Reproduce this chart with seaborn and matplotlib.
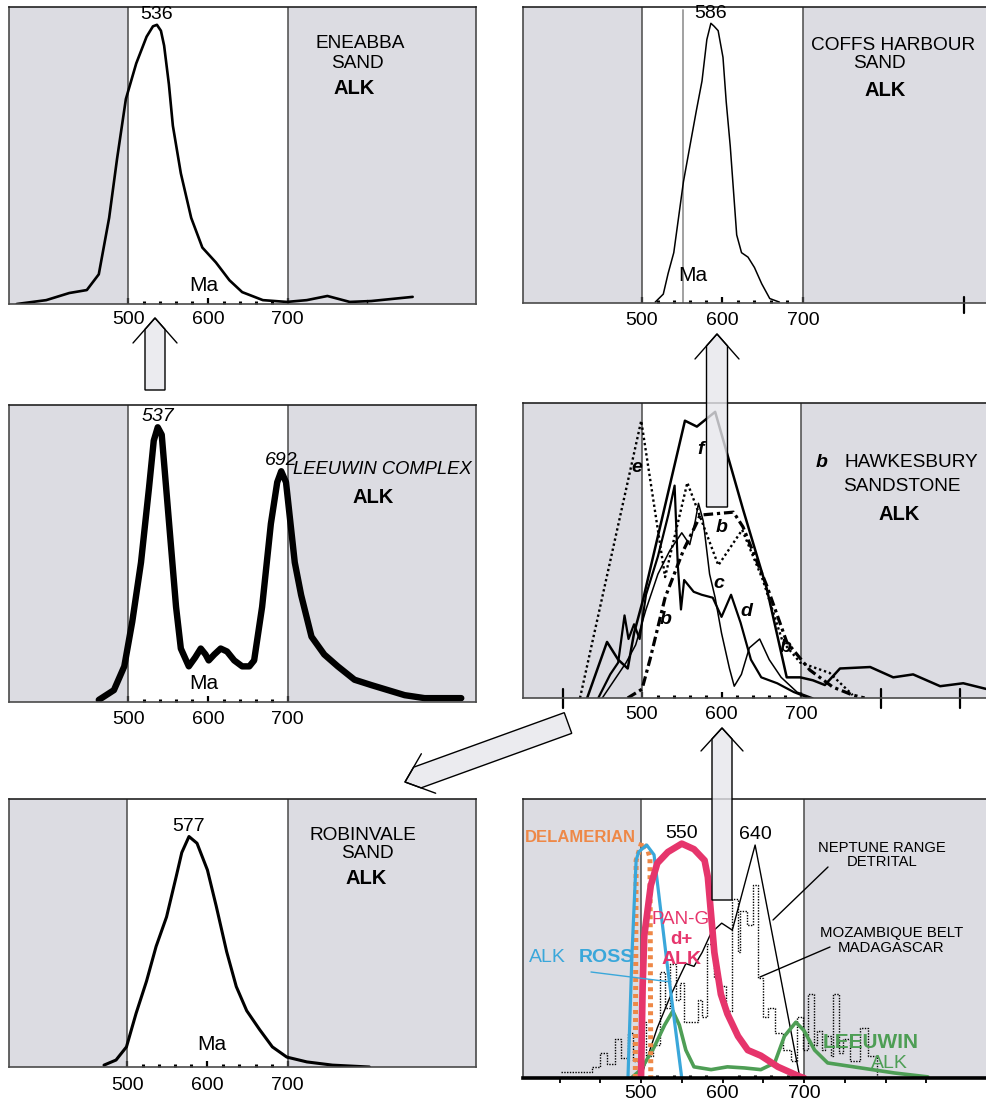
import numpy as np
import matplotlib
matplotlib.use("Agg")
import matplotlib.pyplot as plt
import seaborn as sns
from matplotlib.patches import Polygon
from matplotlib.ticker import FixedLocator, FuncFormatter

sns.set_style("white")
plt.rcParams['font.family'] = ['Liberation Sans', 'DejaVu Sans']
plt.rcParams['text.color'] = 'black'
plt.rcParams['xtick.color'] = 'black'
plt.rcParams['xtick.labelcolor'] = 'black'

# ---------------------------------------------------------------- data (Ma, relative height)
eneabba_age = [360, 397, 426, 448, 463, 476, 486, 497, 510, 523, 531, 536, 541, 545, 551, 556, 566,
               579, 593, 610, 627, 643, 669, 699, 724, 750, 778, 805, 857]
eneabba_h = [0.0, 0.013, 0.037, 0.047, 0.10, 0.29, 0.49, 0.69, 0.81, 0.90, 0.935, 0.94, 0.92, 0.87,
             0.74, 0.60, 0.44, 0.29, 0.19, 0.14, 0.08, 0.04, 0.013, 0.007, 0.013, 0.027, 0.007, 0.01, 0.024]
eneabba_peak = 536

coffs_age = [517, 527, 533, 540, 546, 552, 560, 568, 575, 581, 586, 590, 595, 601, 605, 610, 614,
             618, 624, 632, 640, 649, 659, 671]
coffs_h = [0.003, 0.03, 0.10, 0.17, 0.29, 0.41, 0.53, 0.65, 0.75, 0.89, 0.945, 0.935, 0.92, 0.83,
           0.68, 0.53, 0.38, 0.23, 0.17, 0.155, 0.12, 0.065, 0.015, 0.003]
coffs_peak = 586
coffs_marker = 552

leeuwin_age = [463, 482, 495, 505, 516, 526, 532, 537, 542, 551, 560, 566, 576, 584, 591, 597, 601,
               608, 616, 624, 633, 643, 652, 658, 668, 679, 687, 692, 698, 709, 717, 730, 746, 763,
               784, 805, 826, 847, 872, 918]
leeuwin_h = [0.007, 0.04, 0.12, 0.27, 0.47, 0.72, 0.88, 0.925, 0.90, 0.61, 0.32, 0.18, 0.12, 0.15,
             0.18, 0.16, 0.14, 0.16, 0.18, 0.17, 0.14, 0.12, 0.12, 0.14, 0.32, 0.60, 0.74, 0.777,
             0.74, 0.47, 0.36, 0.22, 0.16, 0.12, 0.075, 0.057, 0.04, 0.023, 0.013, 0.013]
leeuwin_peaks = [537, 692]

robinvale_age = [471, 486, 499, 511, 524, 536, 549, 561, 568, 577, 587, 600, 611, 624, 636, 649, 665,
                 681, 699, 724, 756, 802]
robinvale_h = [0.007, 0.026, 0.075, 0.20, 0.32, 0.45, 0.56, 0.71, 0.80, 0.86, 0.835, 0.735, 0.60,
               0.43, 0.30, 0.21, 0.14, 0.075, 0.037, 0.019, 0.007, 0.0]
robinvale_peak = 577

# Hawkesbury Sandstone samples b-f
hawk_b_age = [482, 500, 510, 529, 552, 570, 573, 615, 627, 657, 682, 711, 740, 765, 780]
hawk_b_h = [0, 0.03, 0.13, 0.34, 0.50, 0.60, 0.62, 0.63, 0.58, 0.38, 0.19, 0.095, 0.037, 0.01, 0]
hawk_c_age = [450, 465, 480, 492, 505, 520, 535, 550, 560, 567, 571, 577, 585, 592, 600, 610, 616,
              625, 635, 648, 660, 675, 695, 715]
hawk_c_h = [0, 0.06, 0.12, 0.18, 0.30, 0.42, 0.50, 0.56, 0.52, 0.60, 0.66, 0.60, 0.42, 0.34, 0.22,
            0.10, 0.04, 0.08, 0.17, 0.20, 0.13, 0.07, 0.02, 0]
hawk_d_age = [445, 460, 470, 478, 483, 490, 497, 505, 520, 533, 541, 545, 549, 553, 565, 575, 589,
              600, 612, 624, 637, 650, 670, 691, 710]
hawk_d_h = [0, 0.08, 0.12, 0.28, 0.20, 0.25, 0.20, 0.35, 0.48, 0.62, 0.72, 0.45, 0.30, 0.40, 0.36,
            0.35, 0.34, 0.275, 0.35, 0.255, 0.13, 0.07, 0.05, 0.02, 0]
hawk_e_age = [422, 499, 529, 557, 596, 626, 652, 677, 699, 736, 765]
hawk_e_h = [0, 0.94, 0.41, 0.73, 0.45, 0.57, 0.40, 0.19, 0.12, 0.085, 0.01]
hawk_f_age = [431, 456, 470, 482, 490, 501, 554, 569, 592, 627, 657, 682, 699, 715, 730, 749, 787,
              816, 841, 875, 904, 934]
hawk_f_h = [0, 0.19, 0.13, 0.10, 0.22, 0.33, 0.94, 0.92, 0.97, 0.64, 0.37, 0.07, 0.07, 0.06, 0.044,
            0.10, 0.105, 0.07, 0.08, 0.04, 0.05, 0.03]

# Source regions
pan_age = [500, 502, 504, 512, 520, 533, 550, 565, 578, 582, 590, 598, 606, 619, 631, 647, 668, 694, 700]
pan_h = [0, 0.33, 0.51, 0.69, 0.77, 0.81, 0.84, 0.82, 0.78, 0.72, 0.45, 0.30, 0.23, 0.15, 0.10,
         0.08, 0.04, 0.006, 0]
pan_peak = 550
ross_age = [484, 489, 494, 497, 507, 516, 532, 550]
ross_h = [0, 0.45, 0.78, 0.81, 0.835, 0.80, 0.41, 0]
delam_age = [493, 494, 501, 508, 511, 512]
delam_h = [0, 0.78, 0.845, 0.82, 0.79, 0]
leeu_alk_age = [488, 500, 516, 529, 539, 547, 555, 565, 586, 606, 627, 647, 664, 676, 690, 700, 713,
                729, 770, 811, 852]
leeu_alk_h = [0, 0.03, 0.11, 0.19, 0.24, 0.19, 0.10, 0.04, 0.03, 0.04, 0.036, 0.03, 0.054, 0.15,
              0.20, 0.17, 0.10, 0.054, 0.036, 0.018, 0.004]
neptune_age = [500, 504, 520, 537, 555, 565, 575, 586, 599, 612, 640, 695]
neptune_h = [0, 0.04, 0.18, 0.30, 0.41, 0.40, 0.45, 0.52, 0.555, 0.53, 0.835, 0]
neptune_peak = 640
moz_age = [402, 440, 450, 458, 468, 475, 484, 490, 501, 506, 515, 523, 530, 536, 543, 548, 553, 570,
           575, 581, 589, 597, 604, 612, 619, 622, 630, 637, 644, 650, 656, 664, 674, 684, 692, 699,
           705, 712, 716, 722, 726, 733, 736, 743, 748, 757, 769, 778, 790]
moz_h = [0.02, 0.04, 0.09, 0.05, 0.14, 0.07, 0.16, 0.06, 0.20, 0.08, 0.12, 0.38, 0.25, 0.41, 0.28,
         0.34, 0.20, 0.28, 0.22, 0.48, 0.36, 0.33, 0.24, 0.64, 0.45, 0.60, 0.55, 0.69, 0.36, 0.22,
         0.25, 0.16, 0.10, 0.06, 0.22, 0.10, 0.30, 0.12, 0.17, 0.10, 0.15, 0.08, 0.30, 0.09, 0.14,
         0.06, 0.18, 0.08, 0.0]

tick_labels = [500, 600, 700]
dot_ticks = list(range(520, 700, 20))

GREY = '#dcdce2'
EDGE = '#4a4a4a'
PINK = '#e6356c'
BLUE = '#3aa7da'
ORANGE = '#ee8847'
GREEN = '#4e9e55'
TXT = 13.7
BOLD = 14.5

W, H = 987, 1103
fig = plt.figure(figsize=(W / 100, H / 100), dpi=100)


def px_axes(l, t, r, b):
    return fig.add_axes([l / W, 1 - b / H, (r - l) / W, (b - t) / H])


def ftext(x, y, s, **kw):
    kw.setdefault('ha', 'center')
    kw.setdefault('va', 'center')
    kw.setdefault('color', 'black')
    fig.text(x / W, 1 - y / H, s, **kw)


def panel(ax, xlim, pad, below=False):
    ax.set_xlim(*xlim)
    ax.set_ylim(0, 1)
    ax.axvspan(xlim[0], 500, color=GREY, lw=0, zorder=0)
    ax.axvspan(700, xlim[1], color=GREY, lw=0, zorder=0)
    for v in (500, 700):
        ax.axvline(v, color=EDGE, lw=1.1, zorder=1)
    ax.set_yticks([])
    for s in ax.spines.values():
        s.set_color(EDGE)
        s.set_linewidth(1.2)
    ax.spines['top'].set_color('#222')
    ax.set_xticks(dot_ticks, minor=True)
    ax.tick_params(axis='x', which='minor', direction='in', length=2.2, width=2.2,
                   color='black', bottom=True)
    if below:
        major = list(range(400, 900, 50))
        ax.xaxis.set_major_locator(FixedLocator(major))
        ax.xaxis.set_major_formatter(FuncFormatter(
            lambda v, p: f"{int(v)}" if int(v) in tick_labels else ""))
        ax.tick_params(axis='x', which='major', direction='out', length=3.6, width=1.3,
                       color='black', labelcolor='black', pad=pad, labelsize=14, bottom=True)
        ax.spines['bottom'].set_color('black')
        ax.spines['bottom'].set_linewidth(2.6)
    else:
        ax.set_xticks(tick_labels)
        ax.tick_params(axis='x', which='major', direction='in', length=4, width=1.6,
                       color='black', labelcolor='black', pad=pad, labelsize=14, bottom=True)
    ax.set_xlabel('')
    ax.set_ylabel('')


def curve(ax, x, y, **kw):
    sns.lineplot(x=x, y=y, ax=ax, sort=False, estimator=None, legend=False, **kw)


def ma_label(ax, x, y):
    ax.text(x, y, 'Ma', ha='center', va='bottom', fontsize=15, color='black', zorder=5)


def peak_label(ax, ages, hs, peak, size=14, **kw):
    h = hs[ages.index(peak)]
    ax.text(peak, h + 0.006, str(peak), ha='center', va='bottom', fontsize=size,
            color='black', clip_on=False, zorder=6, **kw)


# ---------------------------------------------------------------- Eneabba Sand
ax1 = px_axes(9, 7, 476, 304)
panel(ax1, (350.3, 936.5), 5.0)
curve(ax1, eneabba_age, eneabba_h, color='black', lw=1.9)
peak_label(ax1, eneabba_age, eneabba_h, eneabba_peak)
ma_label(ax1, 595, 0.03)
ax1.axvline(800, ymin=0, ymax=0.012, color='black', lw=1)
ftext(360, 43, 'ENEABBA', fontsize=TXT)
ftext(357, 63, 'SAND', fontsize=TXT)
ftext(354, 89, 'ALK', fontsize=BOLD, fontweight='bold')

# ---------------------------------------------------------------- Coffs Harbour Sand
ax2 = px_axes(523, 7, 990, 303)
panel(ax2, (353.1, 932.0), 6.3)
ax2.axvline(coffs_marker, color='#9a9a9a', lw=1.3, ymin=-0.005, ymax=0.99, zorder=2)
curve(ax2, coffs_age, coffs_h, color='black', lw=1.1)
peak_label(ax2, coffs_age, coffs_h, coffs_peak)
ma_label(ax2, 564, 0.06)
ax2.axvline(900, ymin=-0.035, ymax=0.02, color='black', lw=1.6, clip_on=False)
ftext(893, 46, 'COFFS HARBOUR', fontsize=TXT)
ftext(879, 64, 'SAND', fontsize=TXT)
ftext(885, 90, 'ALK', fontsize=BOLD, fontweight='bold')

# ---------------------------------------------------------------- Leeuwin Complex
ax3 = px_axes(9, 405, 476, 702)
panel(ax3, (350.3, 936.5), 6.3)
curve(ax3, leeuwin_age, leeuwin_h, color='black', lw=4.6)
for pk in leeuwin_peaks:
    peak_label(ax3, leeuwin_age, leeuwin_h, pk, fontstyle='italic')
ma_label(ax3, 595, 0.03)
ftext(382, 470, 'LEEUWIN COMPLEX', fontsize=13.2, fontstyle='italic')
ftext(373, 498, 'ALK', fontsize=BOLD, fontweight='bold')

# ---------------------------------------------------------------- Hawkesbury Sandstone
ax4 = px_axes(523, 403, 990, 698)
panel(ax4, (350.3, 937.7), 5.6)
curve(ax4, hawk_e_age, hawk_e_h, color='black', lw=1.7, linestyle=(0, (1, 1.2)))
curve(ax4, hawk_b_age, hawk_b_h, color='black', lw=2.3, linestyle=(0, (3, 1.2, 1, 1.2)))
curve(ax4, hawk_c_age, hawk_c_h, color='black', lw=1.1)
curve(ax4, hawk_d_age, hawk_d_h, color='black', lw=1.6)
curve(ax4, hawk_f_age, hawk_f_h, color='black', lw=1.8)
for v in (400, 800, 900):
    ax4.axvline(v, ymin=-0.035, ymax=0.03, color='black', lw=1.6, clip_on=False)
for s, x, y in [('e', 637, 468), ('f', 701, 450), ('b', 722, 528), ('c', 719, 583),
                ('d', 746, 612), ('b', 666, 620), ('b', 786, 648)]:
    ftext(x, y, s, fontsize=14, fontstyle='italic', fontweight='bold')
ftext(822, 462, 'b', fontsize=14, fontstyle='italic', fontweight='bold')
ftext(911, 462, 'HAWKESBURY', fontsize=TXT)
ftext(902, 487, 'SANDSTONE', fontsize=TXT)
ftext(899, 514, 'ALK', fontsize=BOLD, fontweight='bold')

# ---------------------------------------------------------------- Robinvale Sand
ax5 = px_axes(9, 799, 476, 1067)
panel(ax5, (352.5, 935.0), 7.0)
curve(ax5, robinvale_age, robinvale_h, color='black', lw=2.2)
peak_label(ax5, robinvale_age, robinvale_h, robinvale_peak)
ma_label(ax5, 606, 0.05)
ftext(363, 836, 'ROBINVALE', fontsize=TXT)
ftext(367, 854, 'SAND', fontsize=TXT)
ftext(366, 878, 'ALK', fontsize=BOLD, fontweight='bold')

# ---------------------------------------------------------------- source-region ages
ax6 = px_axes(523, 799, 990, 1078)
panel(ax6, (355.2, 928.2), 1.8, below=True)
curve(ax6, moz_age, moz_h, color='black', lw=1.0, linestyle=(0, (1, 1)), drawstyle='steps-post')
curve(ax6, neptune_age, neptune_h, color='black', lw=1.0)
curve(ax6, leeu_alk_age, leeu_alk_h, color=GREEN, lw=2.6)
curve(ax6, delam_age, delam_h, color=ORANGE, lw=3.6, linestyle=(0, (0.8, 0.8)))
curve(ax6, ross_age, ross_h, color=BLUE, lw=2.3)
curve(ax6, pan_age, pan_h, color=PINK, lw=4.8)
peak_label(ax6, pan_age, pan_h, pan_peak)
peak_label(ax6, neptune_age, neptune_h, neptune_peak)
ftext(636, 838, 'DELAMERIAN', ha='right', fontsize=12, fontweight='bold', color=ORANGE)
ftext(882, 848, 'NEPTUNE RANGE', fontsize=10.6)
ftext(882, 862, 'DETRITAL', fontsize=10.6)
ftext(892, 933, 'MOZAMBIQUE BELT', fontsize=10.8)
ftext(891, 948, 'MADAGASCAR', fontsize=10.8)
ftext(547, 958, 'ALK', fontsize=14, color=BLUE)
ftext(606, 958, 'ROSS', fontsize=14, fontweight='bold', color=BLUE)
ftext(681, 920, 'PAN-G', fontsize=13.5, color=PINK)
ftext(681, 940, 'd+', fontsize=13.5, fontweight='bold', color=PINK)
ftext(682, 960, 'ALK', fontsize=14, fontweight='bold', color=PINK)
ftext(871, 1043, 'LEEUWIN', fontsize=15, fontweight='bold', color=GREEN)
ftext(889, 1064, 'ALK', fontsize=14, color=GREEN)

# ---------------------------------------------------------------- overlay: arrows and leaders
ov = fig.add_axes([0, 0, 1, 1])
ov.set_xlim(0, W)
ov.set_ylim(H, 0)
ov.axis('off')
ov.patch.set_alpha(0)


def arrow(tail, tip, w, L, hw):
    tail = np.array(tail, float)
    tip = np.array(tip, float)
    u = (tip - tail) / np.linalg.norm(tip - tail)
    n = np.array([-u[1], u[0]])
    s = tip - u * (L * w / hw)
    pts = [tail + w * n, s + w * n, tip, s - w * n, tail - w * n]
    ov.add_patch(Polygon(pts, closed=True, fc=(0.90, 0.90, 0.92, 0.8), ec='black', lw=1.0))
    base = tip - u * L
    ov.plot([base[0] + hw * n[0], tip[0], base[0] - hw * n[0]],
            [base[1] + hw * n[1], tip[1], base[1] - hw * n[1]], color='black', lw=1.0)


arrow((155, 390), (155, 318), 10, 25, 22)
arrow((717, 507), (717, 334), 10.5, 25, 22)
arrow((722, 900), (722, 728), 10, 23, 21)
arrow((568, 723), (405, 782), 11, 25, 21)

ov.plot([828, 773], [867, 920], color='black', lw=1.0)
ov.plot([830, 760], [947, 977], color='black', lw=1.0)
ov.plot([591, 671], [972, 982], color=BLUE, lw=1.0)

fig.savefig('out.png', dpi=100)
